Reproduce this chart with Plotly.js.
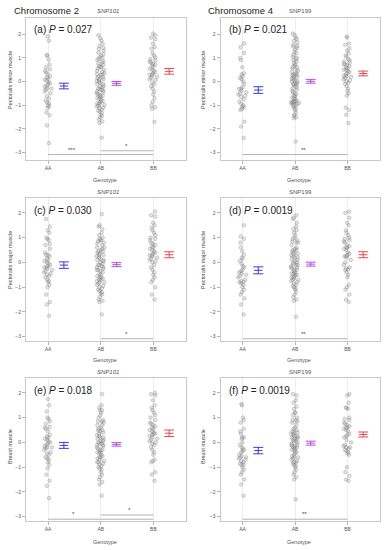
<!DOCTYPE html>
<html><head><meta charset="utf-8">
<script src="https://cdn.plot.ly/plotly-3.0.1.min.js"></script>
<style>html,body{margin:0;padding:0;background:#fff}#chart{width:391px;height:550px}</style>
</head><body><div id="chart"></div>
<script>
const panels = ['a','b','c','d','e','f'];
const genotypes = ['AA','AB','BB'];
const chromosomes = ['Chromosome 2','Chromosome 4'];
const snpNames = ['SNP101','SNP199','SNP101','SNP199','SNP101','SNP199'];
const pValues = ['0.027','0.021','0.030','0.0019','0.018','0.0019'];
const yTitles = ['Pectoralis minor muscle','Pectoralis minor muscle','Pectoralis major muscle','Pectoralis major muscle','Breast muscle','Breast muscle'];
const xTitle = 'Genotype';

const a_AA = [1.9,1.72,1.12,1.08,0.92,0.72,0.6,0.52,0.45,0.38,0.3,0.22,0.18,0.12,0.08,0.02,-0.02,-0.08,-0.12,-0.18,-0.22,-0.28,-0.3,-0.35,-0.42,-0.5,-0.62,-0.72,-0.8,-0.88,-0.92,-1.0,-1.05,-1.12,-1.3,-1.42,-1.85,-2.6];
const a_AB = [1.95,1.82,1.72,1.6,1.5,1.42,1.38,1.3,1.22,1.15,1.1,1.02,0.95,0.9,0.85,0.8,0.75,0.7,0.65,0.6,0.55,0.5,0.45,0.4,0.35,0.32,0.28,0.22,0.18,0.15,0.1,0.05,0.02,-0.02,-0.05,-0.1,-0.12,-0.18,-0.22,-0.25,-0.3,-0.32,-0.38,-0.42,-0.45,-0.5,-0.52,-0.58,-0.62,-0.65,-0.7,-0.72,-0.78,-0.82,-0.85,-0.9,-0.92,-0.98,-1.02,-1.05,-1.1,-1.12,-1.18,-1.22,-1.28,-1.32,-1.4,-1.45,-1.52,-1.6,-1.68,-1.75,-2.37,0.62,0.3,-0.35,1.0,-0.6,0.12,-0.95];
const a_BB = [2.02,1.95,1.85,1.78,1.6,1.45,1.38,1.2,1.1,1.02,0.95,0.9,0.85,0.8,0.72,0.68,0.62,0.55,0.5,0.45,0.4,0.35,0.3,0.25,0.2,0.15,0.1,0.05,-0.05,-0.12,-0.2,-0.3,-0.42,-0.55,-0.7,-0.85,-1.0,-1.08,-1.15,-1.7,0.75,0.28];
const b_AA = [1.6,1.45,1.2,1.0,0.9,0.6,0.35,0.3,0.22,0.15,0.1,0.0,-0.1,-0.25,-0.3,-0.32,-0.38,-0.45,-0.5,-0.55,-0.6,-0.65,-0.75,-0.85,-0.95,-1.0,-1.05,-1.1,-1.15,-1.2,-1.7,-1.9,-2.38];
const b_AB = [2.02,1.95,1.85,1.8,1.72,1.65,1.55,1.48,1.42,1.35,1.25,1.2,1.12,1.05,1.0,0.95,0.9,0.85,0.78,0.72,0.68,0.62,0.55,0.5,0.45,0.4,0.35,0.32,0.28,0.22,0.2,0.15,0.12,0.08,0.05,0.02,0.0,-0.05,-0.08,-0.12,-0.15,-0.2,-0.25,-0.3,-0.35,-0.4,-0.45,-0.5,-0.55,-0.6,-0.62,-0.68,-0.72,-0.75,-0.8,-0.82,-0.85,-0.88,-0.9,-0.92,-0.95,-0.98,-1.0,-1.05,-1.1,-1.15,-1.2,-1.3,-1.4,-1.45,-1.5,-1.55,-2.53,0.3,0.25,-0.9,-0.85,0.6,1.5,-0.1];
const b_BB = [1.9,1.85,1.6,1.55,1.4,1.3,1.2,1.1,1.05,0.95,0.9,0.85,0.8,0.75,0.7,0.65,0.6,0.55,0.5,0.45,0.4,0.35,0.3,0.25,0.2,0.15,0.1,0.05,0.0,-0.05,-0.1,-0.2,-0.3,-0.4,-0.5,-0.6,-1.1,-1.2,-1.4,-1.75,0.72,0.5,0.22];
const c_AA = [1.75,1.45,1.3,1.2,1.0,0.95,0.9,0.75,0.7,0.55,0.4,0.3,0.25,0.15,0.1,0.05,0.0,-0.05,-0.1,-0.15,-0.2,-0.25,-0.3,-0.35,-0.4,-0.45,-0.5,-0.55,-0.6,-0.7,-0.75,-0.8,-0.9,-1.0,-1.3,-1.6,-1.7,-2.15,-0.2,0.3];
const c_AB = [1.95,1.5,1.45,1.35,1.2,1.0,0.95,0.9,0.85,0.8,0.75,0.7,0.6,0.55,0.5,0.45,0.4,0.35,0.3,0.25,0.2,0.15,0.1,0.05,0.0,-0.05,-0.1,-0.15,-0.2,-0.25,-0.3,-0.35,-0.4,-0.45,-0.5,-0.55,-0.6,-0.65,-0.7,-0.75,-0.8,-0.85,-0.9,-0.95,-1.0,-1.05,-1.1,-1.15,-1.2,-1.3,-1.4,-1.5,-1.55,-1.6,-2.1,0.9,0.3,-0.2,-0.6,-0.7,0.1,-0.3,1.1,0.6,-0.8,-1.25,0.45,-0.1];
const c_BB = [2.05,1.9,1.85,1.6,1.5,1.4,1.2,1.1,1.0,0.95,0.9,0.8,0.75,0.7,0.6,0.55,0.5,0.45,0.4,0.35,0.3,0.25,0.2,0.15,0.1,0.05,0.0,-0.1,-0.2,-0.3,-0.4,-0.5,-0.6,-0.7,-0.8,-1.0,-1.3,-1.5,0.65,0.28,1.3];
const d_AA = [1.5,1.05,0.95,0.8,0.6,0.45,0.2,0.15,0.05,-0.05,-0.15,-0.2,-0.3,-0.35,-0.4,-0.45,-0.5,-0.55,-0.6,-0.7,-0.75,-0.8,-0.85,-0.9,-1.0,-1.1,-1.2,-1.3,-1.45,-1.7,-2.1,-0.78,0.3];
const d_AB = [1.9,1.8,1.75,1.6,1.45,1.35,1.2,1.1,1.0,0.95,0.9,0.85,0.8,0.7,0.6,0.55,0.5,0.45,0.4,0.35,0.3,0.25,0.2,0.15,0.1,0.05,0.0,-0.05,-0.1,-0.15,-0.2,-0.25,-0.3,-0.35,-0.4,-0.45,-0.5,-0.55,-0.6,-0.65,-0.7,-0.75,-0.8,-0.85,-0.9,-0.95,-1.0,-1.05,-1.1,-1.2,-1.3,-1.4,-1.5,-1.55,-2.2,0.5,0.0,-0.5,-0.7,0.2,-0.3,0.8,-0.1,-0.6,0.35,-0.45,1.3,-0.2];
const d_BB = [2.05,2.0,1.8,1.6,1.5,1.3,1.2,1.1,1.0,0.9,0.85,0.8,0.7,0.65,0.6,0.55,0.5,0.4,0.35,0.3,0.25,0.2,0.1,0.0,-0.1,-0.2,-0.25,-0.3,-0.4,-0.5,-0.6,-0.9,-1.0,-1.1,-1.3,-1.5,-1.6,0.6,0.25,-0.28,0.95];
const e_AA = [1.75,1.5,1.25,1.0,0.95,0.85,0.75,0.6,0.55,0.45,0.3,0.2,0.15,0.1,0.05,0.0,-0.05,-0.1,-0.15,-0.2,-0.25,-0.3,-0.4,-0.45,-0.5,-0.6,-0.65,-0.7,-0.8,-0.9,-1.05,-1.3,-1.55,-1.75,-2.25,0.62,-0.2,0.25];
const e_AB = [1.95,1.5,1.4,1.3,1.2,1.1,1.0,0.9,0.85,0.8,0.7,0.6,0.55,0.5,0.45,0.4,0.3,0.25,0.2,0.15,0.1,0.05,0.0,-0.05,-0.1,-0.15,-0.2,-0.25,-0.3,-0.35,-0.4,-0.45,-0.5,-0.55,-0.6,-0.65,-0.7,-0.75,-0.8,-0.85,-0.9,-0.95,-1.0,-1.1,-1.2,-1.3,-1.4,-1.5,-1.6,-1.7,-2.15,0.85,0.05,-0.1,-0.05,0.5,-0.6,-0.3,0.2,-0.8,1.3,-0.4,0.35,0.7,-1.05];
const e_BB = [2.0,1.95,1.9,1.7,1.5,1.3,1.2,1.1,1.0,0.9,0.8,0.75,0.7,0.65,0.6,0.5,0.45,0.4,0.35,0.3,0.25,0.2,0.15,0.1,0.05,0.0,-0.1,-0.2,-0.3,-0.4,-0.5,-0.7,-0.75,-0.8,-1.2,-1.3,-1.55,0.55,0.35,1.4,-0.05];
const f_AA = [1.55,1.5,1.0,0.9,0.8,0.55,0.45,0.35,0.2,0.15,0.0,-0.1,-0.2,-0.25,-0.3,-0.35,-0.4,-0.5,-0.55,-0.6,-0.65,-0.7,-0.75,-0.8,-0.85,-0.9,-1.0,-1.1,-1.2,-1.3,-1.5,-1.7,-2.15,0.2,-0.6,-0.9];
const f_AB = [1.95,1.9,1.7,1.6,1.45,1.35,1.2,1.1,1.0,0.9,0.85,0.8,0.7,0.6,0.55,0.5,0.45,0.4,0.35,0.3,0.25,0.2,0.15,0.1,0.05,0.0,-0.05,-0.1,-0.15,-0.2,-0.25,-0.3,-0.35,-0.4,-0.45,-0.5,-0.55,-0.6,-0.65,-0.7,-0.75,-0.8,-0.85,-0.9,-0.95,-1.0,-1.1,-1.2,-1.3,-1.4,-1.5,-2.3,0.25,0.2,0.15,0.05,-0.1,-0.3,-0.6,0.35,0.4,-0.2,1.2,0.9,-0.8,-0.15];
const f_BB = [1.95,1.9,1.6,1.4,1.35,1.0,0.95,0.9,0.8,0.7,0.65,0.6,0.55,0.5,0.45,0.35,0.3,0.2,0.1,0.0,-0.1,-0.15,-0.2,-0.25,-0.3,-0.35,-0.4,-0.45,-0.5,-1.0,-1.2,-1.35,-1.5,-1.55,0.75,0.6,0.25,-0.2,1.4];

const pointsAA = [a_AA,b_AA,c_AA,d_AA,e_AA,f_AA];
const pointsAB = [a_AB,b_AB,c_AB,d_AB,e_AB,f_AB];
const pointsBB = [a_BB,b_BB,c_BB,d_BB,e_BB,f_BB];

// group means and standard errors
const meanAA = [-0.19,-0.36,-0.11,-0.32,-0.12,-0.33];
const meanAB = [-0.08,0.01,-0.09,-0.07,-0.08,-0.03];
const meanBB = [0.43,0.34,0.31,0.31,0.37,0.32];
const seAA = [0.12,0.14,0.13,0.14,0.12,0.13];
const seAB = [0.08,0.08,0.08,0.08,0.07,0.08];
const seBB = [0.12,0.10,0.12,0.12,0.13,0.10];

// significance brackets (group index from, to, height, label)
const sigPanel = [0,0,1,2,3,4,4,5];
const sigFrom  = [0,1,0,1,0,0,1,0];
const sigTo    = [2,2,2,2,2,2,2,2];
const sigY     = [-3.08,-2.92,-3.08,-3.08,-3.08,-3.1,-2.93,-3.1];
const sigLabel = ['***','*','**','*','**','*','*','**'];
const sigLabelX= [0.46,1.49,1.16,1.49,1.16,0.48,1.55,1.18];

const groupColors = ['#3a3ad8','#b64fe2','#e8474f'];
const FONT = 'Liberation Sans, Arial, sans-serif';
const W = 391, H = 550;
const colDom = [[26/W,186/W],[220.5/W,380/W]];
const rowDom = [[1-160/H,1-17.5/H],[1-340.7/H,1-197.5/H],[1-520.7/H,1-377.5/H]];
const rowRange = [[-3.31,2.70],[-3.16,2.62],[-3.16,2.62]];
const xRange = [-0.42,2.62];
const meanOffset = 0.3;

const traces = [];
const layout = {
  width: W, height: H, margin:{l:0,r:0,t:0,b:0},
  paper_bgcolor:'#fff', plot_bgcolor:'#fff', showlegend:false,
  boxmode:'overlay', font:{family:FONT},
  annotations:[], shapes:[]
};

panels.forEach((p,i)=>{
  const n = i===0 ? '' : String(i+1);
  const xa = 'x'+n, ya = 'y'+n;
  const col = i%2, row = Math.floor(i/2);
  layout['xaxis'+n] = {
    domain: colDom[col], range: xRange, anchor: ya,
    tickmode:'array', tickvals:[0,1,2], ticktext: genotypes,
    showgrid:true, gridcolor:'#e8e8e8', gridwidth:0.8, zeroline:false,
    showline:true, mirror:true, linecolor:'#c8c8c8', linewidth:1,
    ticks:'outside', ticklen:3, tickcolor:'#a0a0a0', tickwidth:0.8,
    tickfont:{size:5, color:'#555', family:FONT}, fixedrange:true
  };
  layout['yaxis'+n] = {
    domain: rowDom[row], range: rowRange[row], anchor: xa,
    tickmode:'array', tickvals:[-3,-2,-1,0,1,2],
    showgrid:false, zeroline:false,
    showline:true, mirror:true, linecolor:'#c8c8c8', linewidth:1,
    ticks:'outside', ticklen:3, tickcolor:'#a0a0a0', tickwidth:0.8,
    tickfont:{size:5, color:'#555', family:FONT}, fixedrange:true
  };
  const groups = [pointsAA[i], pointsAB[i], pointsBB[i]];
  groups.forEach((vals,g)=>{
    traces.push({
      type:'box', y: vals, x0: g, width:0.24, xaxis:xa, yaxis:ya,
      boxpoints:'all', jitter:0.7, pointpos:0,
      fillcolor:'rgba(0,0,0,0)', line:{color:'rgba(0,0,0,0)', width:0},
      whiskerwidth:0,
      marker:{size:3.6, color:'rgba(165,165,165,0.3)', line:{color:'rgba(95,95,95,0.5)', width:0.5}},
      hoverinfo:'skip'
    });
  });
  const means = [meanAA[i], meanAB[i], meanBB[i]];
  const ses = [seAA[i], seAB[i], seBB[i]];
  means.forEach((m,g)=>{
    traces.push({
      type:'scatter', mode:'markers', x:[g+meanOffset], y:[m], xaxis:xa, yaxis:ya,
      marker:{symbol:'line-ew', size:6, color:groupColors[g], line:{color:groupColors[g], width:1}},
      error_y:{type:'data', array:[ses[g]], visible:true, color:groupColors[g], thickness:1, width:5},
      hoverinfo:'skip'
    });
  });
  // panel label
  layout.annotations.push({
    xref:xa, yref:ya, x:-0.3, y: row===0 ? 2.19 : 2.11, xanchor:'left', yanchor:'middle',
    text:'('+p+') <i>P</i> = '+pValues[i], showarrow:false,
    font:{size:10, color:'#222', family:FONT}
  });
  // SNP title
  const cx = (colDom[col][0]+colDom[col][1])/2;
  const snpY = [11, 191.7, 371.7][row];
  layout.annotations.push({
    xref:'paper', yref:'paper', x: cx + (col===0 ? 2/W : 0), y: 1 - snpY/H, xanchor:'center', yanchor:'middle',
    text: col===0 ? '<i>'+snpNames[i]+'</i>' : snpNames[i], showarrow:false,
    font:{size:6, color:'#555', family:FONT}
  });
  // y title
  const yTitY = [80, 260, 447][row];
  layout.annotations.push({
    xref:'paper', yref:'paper', x: (col===0 ? 10 : 203)/W, y: 1 - yTitY/H,
    xanchor:'center', yanchor:'middle', textangle:-90,
    text: yTitles[i], showarrow:false, font:{size:5.5, color:'#444', family:FONT}
  });
  // x title
  const xTitY = [180, 360, 541.7][row];
  layout.annotations.push({
    xref:'paper', yref:'paper', x: cx - 1/W, y: 1 - xTitY/H,
    xanchor:'center', yanchor:'middle',
    text: xTitle, showarrow:false, font:{size:5.5, color:'#555', family:FONT}
  });
});

// chromosome headers
layout.annotations.push({xref:'paper', yref:'paper', x:12/W, y:1-10.5/H, xanchor:'left', yanchor:'middle',
  text:chromosomes[0], showarrow:false, font:{size:9.5, color:'#222', family:FONT}});
layout.annotations.push({xref:'paper', yref:'paper', x:206/W, y:1-10.5/H, xanchor:'left', yanchor:'middle',
  text:chromosomes[1], showarrow:false, font:{size:9.5, color:'#222', family:FONT}});

// significance brackets
sigPanel.forEach((pi,k)=>{
  const n = pi===0 ? '' : String(pi+1);
  traces.push({
    type:'scatter', mode:'lines', x:[sigFrom[k], sigTo[k]], y:[sigY[k], sigY[k]],
    xaxis:'x'+n, yaxis:'y'+n, line:{color:'#a0a0a0', width:0.8}, hoverinfo:'skip'
  });
  layout.annotations.push({
    xref:'x'+n, yref:'y'+n, x:sigLabelX[k], y:sigY[k], xanchor:'center', yanchor:'bottom',
    text:sigLabel[k], showarrow:false, font:{size:6, color:'#444', family:FONT}
  });
});

Plotly.newPlot('chart', traces, layout, {staticPlot:true, displayModeBar:false});
</script>
</body></html>
